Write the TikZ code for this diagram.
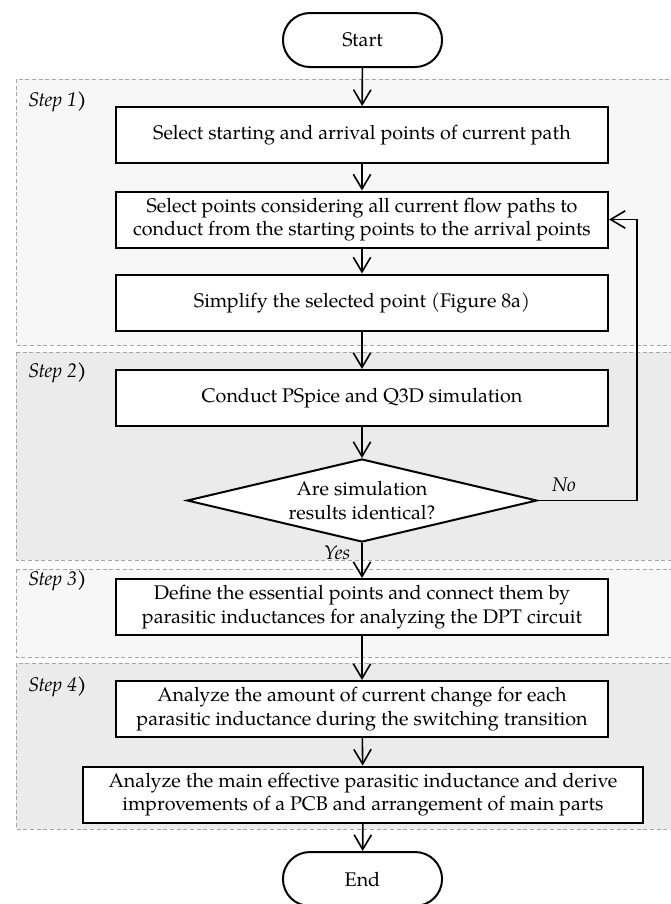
\documentclass[tikz,border=0pt]{standalone}
\usepackage{fontspec}
\setmainfont{TeX Gyre Pagella}
\usetikzlibrary{shapes.geometric,shapes.misc,arrows.meta}

\begin{document}
\begin{tikzpicture}[x=0.75pt,y=-0.75pt,
  >={Straight Barb[length=11pt,width=13pt]},
  every node/.style={font=\fontsize{14.8}{17.5}\selectfont},
  box/.style={draw,line width=1.5pt,fill=white,minimum width=369pt,minimum height=42pt,align=center,inner sep=2pt},
  term/.style={draw,rounded rectangle,line width=1.5pt,fill=white,minimum width=126pt,minimum height=40.5pt},
  decision/.style={draw,diamond,aspect=4.2,line width=1.5pt,fill=white,minimum width=262.5pt,minimum height=62.25pt,align=center,inner sep=0pt},
  stage/.style={draw=gray!70,dash pattern=on 3pt off 2pt,line width=0.6pt},
  steplabel/.style={anchor=west,inner sep=0pt},
  flow/.style={->,line width=1.2pt}]

  \useasboundingbox (0,0) rectangle (671,904);
  \clip (0,0) rectangle (671,904);

  \draw [stage,fill=black!3] (16,79) rectangle (690,345);
  \draw [stage,fill=black!8] (16,352) rectangle (690,560);
  \draw [stage,fill=black!3] (16,569) rectangle (690,657);
  \draw [stage,fill=black!8] (16,663) rectangle (690,829);

  \node[steplabel] (s1) at (28,102) {\textit{Step 1}\textbf{)}};
  \node[steplabel] (s2) at (28,373) {\textit{Step 2}\textbf{)}};
  \node[steplabel] (s3) at (28,581) {\textit{Step 3}\textbf{)}};
  \node[steplabel] (s4) at (28,687) {\textit{Step 4}\textbf{)}};

  \node[term] (start) at (362.5,40) {Start};
  \node[box] (b1) at (362,135) {Select starting and arrival points of current path};
  \node[box] (b2) at (362,219.5) {Select points considering all current flow paths to\\conduct from the starting points to the arrival points};
  \node[box] (b3) at (362,302.5) {Simplify the selected point (Figure 8a)};
  \node[box] (b4) at (362,398) {Conduct PSpice and Q3D simulation};
  \node[decision] (dec) at (362,500.5) {Are simulation\\results identical?};
  \node[box] (b5) at (362,607) {Define the essential points and connect them by\\parasitic inductances for analyzing the DPT circuit};
  \node[box] (b6) at (362,709) {Analyze the amount of current change for each\\parasitic inductance during the switching transition};
  \node[box,minimum width=420pt] (b7) at (363,794.5) {Analyze the main effective parasitic inductance and derive\\improvements of a PCB and arrangement of main parts};
  \node[term] (end) at (362.5,879) {End};

  \node (no) at (564,485) {\textit{No}};
  \node (yes) at (337,553) {\textit{Yes}};
  \coordinate (loop) at (637,219.5);

  \draw [flow] (start) -- (b1);
  \draw [flow] (b1) -- (b2);
  \draw [flow] (b2) -- (b3);
  \draw [flow] (b3) -- (b4);
  \draw [flow] (b4) -- (dec);
  \draw [flow] (dec) -- (b5);
  \draw [flow] (b5) -- (b6);
  \draw [flow] (b6) -- (b7);
  \draw [flow] (b7) -- (end);
  \draw [flow] (dec.east) -| (loop) -- (b2.east);

\end{tikzpicture}
\end{document}
